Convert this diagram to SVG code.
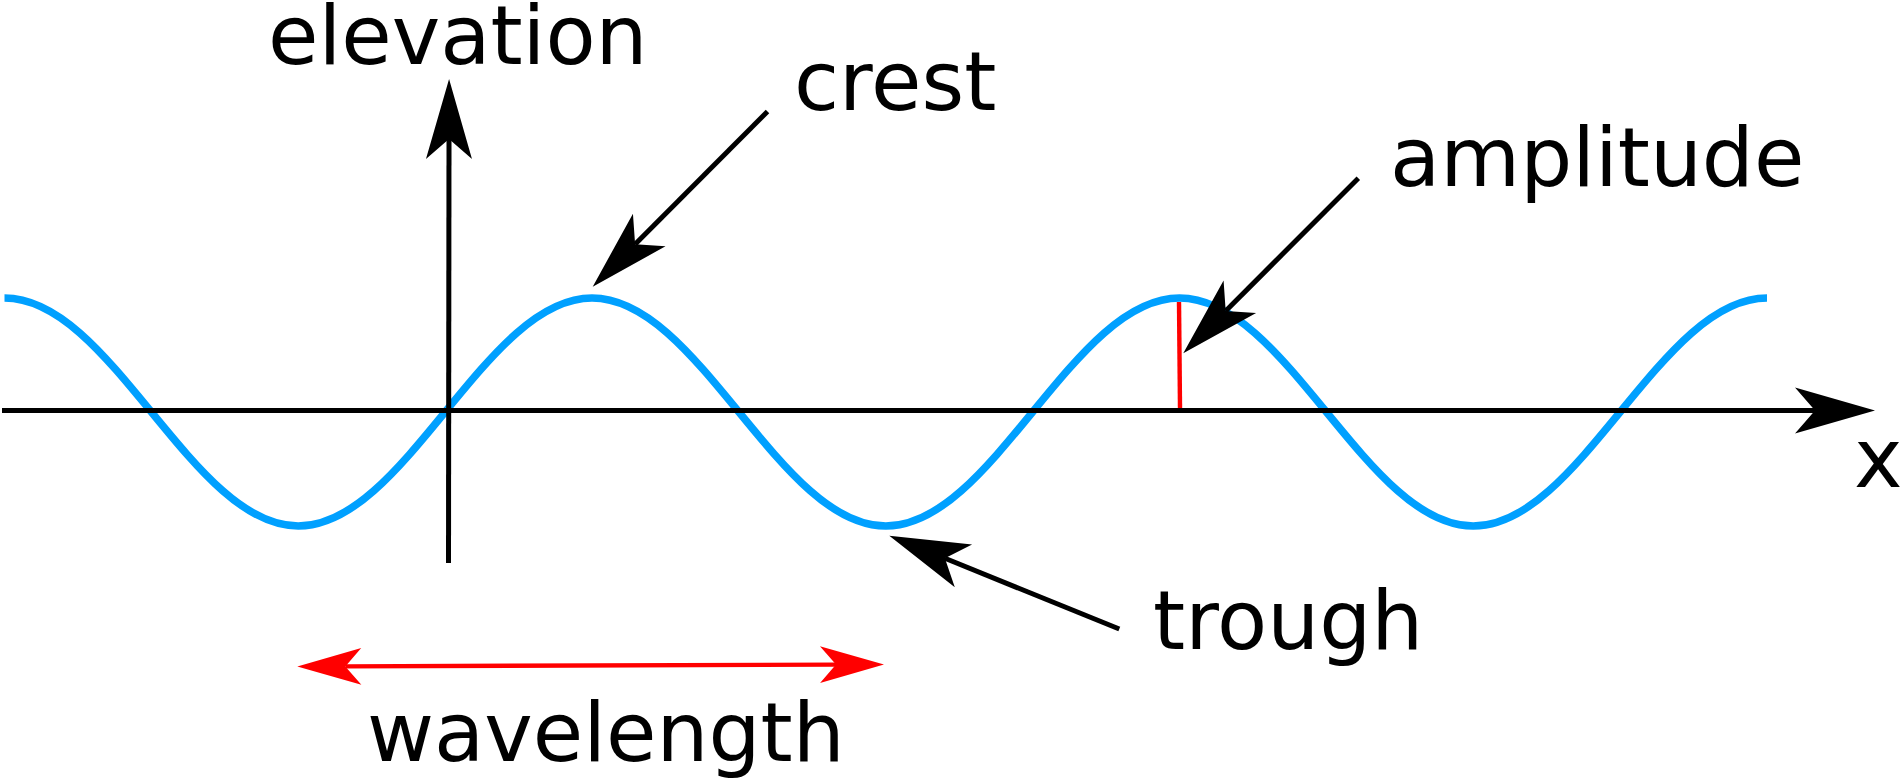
<svg xmlns="http://www.w3.org/2000/svg" width="1901" height="779" viewBox="0 0 1901 779">
<style>
.lbl{font-family:"DejaVu Sans","Liberation Sans",sans-serif;font-size:82px;fill:#000}
.ax{fill:none;stroke:#000;stroke-width:5;stroke-linecap:butt}
.red{fill:none;stroke:#ff0000;stroke-width:4.4}
.wave{fill:none;stroke:#00a0ff;stroke-width:7.5}
</style>
<defs>
<marker id="ah" markerUnits="userSpaceOnUse" orient="auto" refX="0" refY="0" markerWidth="80" markerHeight="48" viewBox="-20 -24 80 48" overflow="visible">
<path d="M60,0 L-20,-23 L0,0 L-20,23 Z" fill="#000"/>
</marker>
<marker id="ahr" markerUnits="userSpaceOnUse" orient="auto-start-reverse" refX="0" refY="0" markerWidth="64" markerHeight="38" viewBox="-16 -19 64 38" overflow="visible">
<path d="M48,0 L-16,-18.4 L0,0 L-16,18.4 Z" fill="#ff0000"/>
</marker>
</defs>
<rect width="1901" height="779" fill="#fff"/>
<g id="wave">
<path class="wave" d="M4.5,298 C57.7,298 103.48,353.6 151.38,412 C199.28,470.4 245.08,526 298.25,526 C351.45,526 397.23,470.4 445.13,412 C493.03,353.6 538.83,298 592,298 C645.2,298 690.98,353.6 738.88,412 C786.78,470.4 832.58,526 885.75,526 C938.95,526 984.73,470.4 1032.63,412 C1080.53,353.6 1126.33,298 1179.5,298 C1232.7,298 1278.48,353.6 1326.38,412 C1374.28,470.4 1420.08,526 1473.25,526 C1526.45,526 1572.23,470.4 1620.13,412 C1668.03,353.6 1713.83,298 1767,298"/>
</g>
<g id="connectors">
<path id="x-axis" class="ax" d="M2,410.5 L1815,410.5" marker-end="url(#ah)"/>
<path id="elevation-axis" class="ax" d="M448.5,563 L449,139" marker-end="url(#ah)"/>
<path id="crest-arrow" class="ax" d="M767.5,111.5 L635.1,244.2" marker-end="url(#ah)"/>
<path id="amplitude-arrow" class="ax" d="M1358.3,178.3 L1225.7,310.9" marker-end="url(#ah)"/>
<path id="trough-arrow" class="ax" d="M1119.3,629 L944.9,558.3" marker-end="url(#ah)"/>
<path id="amplitude-line" fill="none" stroke="#ff0000" stroke-width="4.4" d="M1179,302 L1180,408"/>
<path id="wavelength-arrow" class="red" d="M345.3,666.4 L836,664.6" marker-start="url(#ahr)" marker-end="url(#ahr)"/>
</g>
<g id="label-elevation"><text class="lbl" x="268" y="64">elevation</text></g>
<g id="label-crest"><text class="lbl" x="794" y="110">crest</text></g>
<g id="label-amplitude"><text class="lbl" x="1390" y="186">amplitude</text></g>
<g id="label-x"><text class="lbl" x="1854" y="487">x</text></g>
<g id="label-trough"><text class="lbl" x="1153" y="649">trough</text></g>
<g id="label-wavelength"><text class="lbl" x="367" y="761">wavelength</text></g>
</svg>
